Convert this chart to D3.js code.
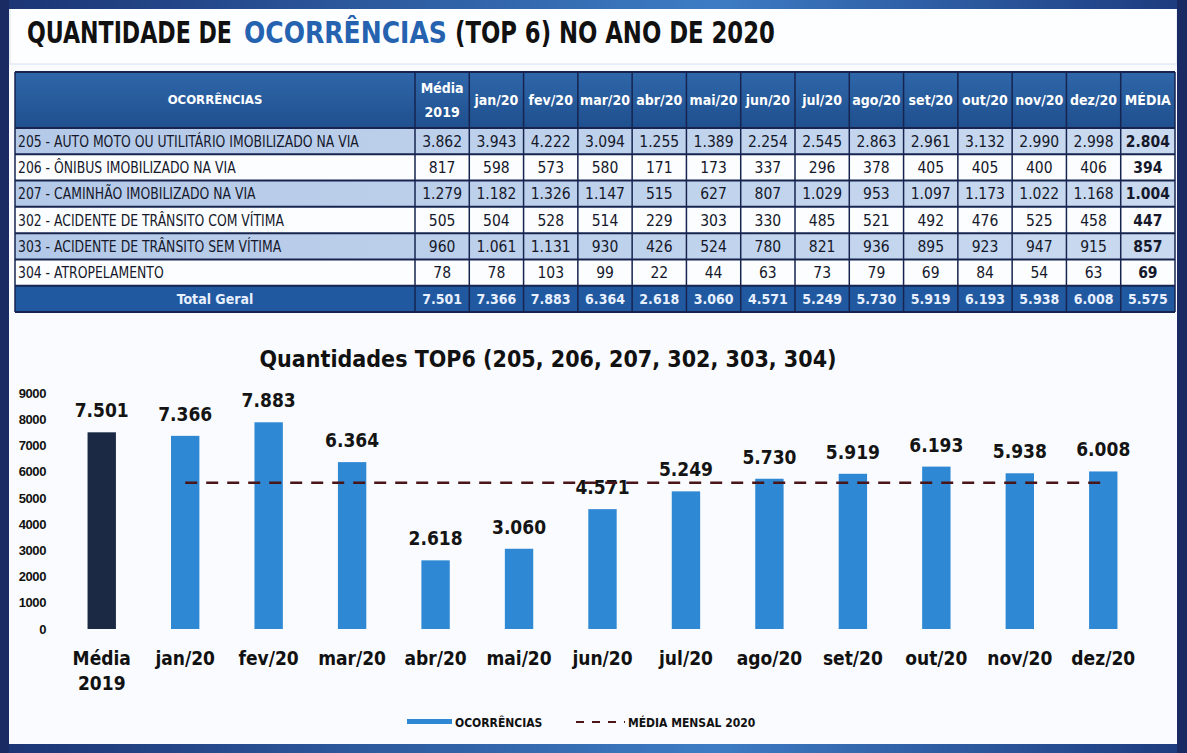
<!DOCTYPE html>
<html>
<head>
<meta charset="utf-8">
<script src="https://cdn.jsdelivr.net/npm/d3@7"></script>
<style>
  html, body { margin: 0; padding: 0; background: #f6f9fc; }
  svg { display: block; }
</style>
</head>
<body>
<script>
// Data
const ocorrencias = [
  '205 - AUTO MOTO OU UTILITÁRIO IMOBILIZADO NA VIA',
  '206 - ÔNIBUS IMOBILIZADO NA VIA',
  '207 - CAMINHÃO IMOBILIZADO NA VIA',
  '302 - ACIDENTE DE TRÂNSITO COM VÍTIMA',
  '303 - ACIDENTE DE TRÂNSITO SEM VÍTIMA',
  '304 - ATROPELAMENTO',
];
const colunas = ['Média 2019', 'jan/20', 'fev/20', 'mar/20', 'abr/20', 'mai/20', 'jun/20',
  'jul/20', 'ago/20', 'set/20', 'out/20', 'nov/20', 'dez/20', 'MÉDIA'];
const v205 = [3862, 3943, 4222, 3094, 1255, 1389, 2254, 2545, 2863, 2961, 3132, 2990, 2998, 2804];
const v206 = [817, 598, 573, 580, 171, 173, 337, 296, 378, 405, 405, 400, 406, 394];
const v207 = [1279, 1182, 1326, 1147, 515, 627, 807, 1029, 953, 1097, 1173, 1022, 1168, 1004];
const v302 = [505, 504, 528, 514, 229, 303, 330, 485, 521, 492, 476, 525, 458, 447];
const v303 = [960, 1061, 1131, 930, 426, 524, 780, 821, 936, 895, 923, 947, 915, 857];
const v304 = [78, 78, 103, 99, 22, 44, 63, 73, 79, 69, 84, 54, 63, 69];
const totalGeral = [7501, 7366, 7883, 6364, 2618, 3060, 4571, 5249, 5730, 5919, 6193, 5938, 6008, 5575];

// Chart categories (bars) and y ticks
const categorias = colunas.slice(0, 13);
const yTicks = [0, 1000, 2000, 3000, 4000, 5000, 6000, 7000, 8000, 9000];

const W = 1187;
const H = 753;
const narrow = "'Liberation Sans Narrow', 'DejaVu Sans Condensed', 'Liberation Sans', sans-serif";
const br = d3.formatLocale({ decimal: ',', thousands: '.', grouping: [3], currency: ['R$', ''] });
const fmt = br.format(',d');

const svg = d3.select('body').append('svg')
  .attr('width', W)
  .attr('height', H);

const defs = svg.append('defs');
const gTop = defs.append('linearGradient').attr('id', 'gTop');
gTop.append('stop').attr('offset', '0%').attr('stop-color', '#1b3474');
gTop.append('stop').attr('offset', '60%').attr('stop-color', '#3d7cc4');
gTop.append('stop').attr('offset', '100%').attr('stop-color', '#1d3a7e');
const gHead = defs.append('linearGradient').attr('id', 'gHead').attr('x2', 0).attr('y2', 1);
gHead.append('stop').attr('offset', '0%').attr('stop-color', '#2f67aa');
gHead.append('stop').attr('offset', '100%').attr('stop-color', '#1f4f8e');
const gRow = defs.append('linearGradient').attr('id', 'gRow');
gRow.append('stop').attr('offset', '0%').attr('stop-color', '#b4c9e8');
gRow.append('stop').attr('offset', '100%').attr('stop-color', '#c9daf0');

// Background + frame
svg.append('rect').attr('width', W).attr('height', H).attr('fill', '#f9fbfe');
svg.append('rect').attr('x', 10).attr('y', 8).attr('width', 1167).attr('height', 56)
  .attr('fill', '#fdfeff').attr('stroke', '#d8e2ee');
svg.append('rect').attr('x', 0).attr('y', 0).attr('width', W).attr('height', 9).attr('fill', 'url(#gTop)');
svg.append('rect').attr('x', 0).attr('y', 744).attr('width', W).attr('height', 9).attr('fill', 'url(#gTop)');
svg.append('rect').attr('x', 0).attr('y', 0).attr('width', 9).attr('height', H).attr('fill', '#1a2a62');
svg.append('rect').attr('x', 1177).attr('y', 0).attr('width', 10).attr('height', H).attr('fill', '#1a2a62');

// Title (three pieces, each squeezed to its place in the picture)
const titleParts = [
  { t: 'QUANTIDADE DE', x: 27, w: 205, c: '#111' },
  { t: 'OCORRÊNCIAS', x: 244, w: 203, c: '#2563b0' },
  { t: '(TOP 6) NO ANO DE 2020', x: 455, w: 320, c: '#111' },
];
svg.append('g')
  .selectAll('text')
  .data(titleParts)
  .enter().append('text')
  .attr('x', 0)
  .attr('y', 0)
  .attr('font-family', narrow)
  .attr('font-weight', 'bold')
  .attr('font-size', 30)
  .attr('fill', (d) => d.c)
  .text((d) => d.t)
  .each(function (d) {
    const sx = d.w / this.getComputedTextLength();
    d3.select(this).attr('transform', `translate(${d.x},43) scale(${sx},1)`);
  });

// Table
const tLeft = 15;
const tFirst = 415;
const tRight = 1175;
const tTop = 72;
const tHeadBottom = 128;
const tBottom = 312;

const rows = [v205, v206, v207, v302, v303, v304];
const xCol = d3.scaleBand().domain(colunas).range([tFirst, tRight]);
const yRow = d3.scaleBand().domain(d3.range(rows.length + 1)).range([tHeadBottom, tBottom]);

const table = svg.append('g').attr('class', 'table');

// header
table.append('rect')
  .attr('x', tLeft).attr('y', tTop)
  .attr('width', tRight - tLeft).attr('height', tHeadBottom - tTop)
  .attr('fill', 'url(#gHead)');

table.append('text')
  .attr('x', (tLeft + tFirst) / 2)
  .attr('y', 104)
  .attr('text-anchor', 'middle')
  .attr('font-family', narrow)
  .attr('font-weight', 'bold')
  .attr('font-size', 13)
  .attr('fill', '#fff')
  .text('OCORRÊNCIAS');

table.selectAll('.head')
  .data(colunas)
  .enter().append('text')
  .attr('class', 'head')
  .attr('text-anchor', 'middle')
  .attr('font-family', narrow)
  .attr('font-weight', 'bold')
  .attr('font-size', 14)
  .attr('fill', '#fff')
  .each(function (d) {
    const parts = d.split(' ');
    const cx = xCol(d) + xCol.bandwidth() / 2;
    d3.select(this).selectAll('tspan')
      .data(parts)
      .enter().append('tspan')
      .attr('x', cx)
      .attr('y', (p, i) => (parts.length > 1 ? 93 + i * 24 : 105))
      .text((p) => p);
  });

// body rows
const body = table.selectAll('.row')
  .data(rows)
  .enter().append('g')
  .attr('class', 'row');

body.append('rect')
  .attr('x', tLeft)
  .attr('y', (d, i) => yRow(i))
  .attr('width', tRight - tLeft)
  .attr('height', yRow.bandwidth())
  .attr('fill', (d, i) => (i % 2 === 0 ? 'url(#gRow)' : '#fbfdff'));

body.append('text')
  .attr('x', tLeft + 3)
  .attr('y', (d, i) => yRow(i) + yRow.bandwidth() / 2 + 5.5)
  .attr('font-family', narrow)
  .attr('font-size', 15.5)
  .attr('fill', '#15182a')
  .text((d, i) => ocorrencias[i])
  .each(function () {
    // squeeze the labels a little, like the condensed face of the original
    const len = this.getComputedTextLength();
    d3.select(this)
      .attr('textLength', len * 0.89)
      .attr('lengthAdjust', 'spacingAndGlyphs');
  });

body.each(function (vals, i) {
  d3.select(this).selectAll('.val')
    .data(vals)
    .enter().append('text')
    .attr('class', 'val')
    .attr('x', (v, j) => xCol(colunas[j]) + xCol.bandwidth() / 2)
    .attr('y', yRow(i) + yRow.bandwidth() / 2 + 5.5)
    .attr('text-anchor', 'middle')
    .attr('font-family', narrow)
    .attr('font-size', 15.5)
    .attr('font-weight', (v, j) => (j === colunas.length - 1 ? 'bold' : 'normal'))
    .attr('fill', '#15182a')
    .text((v) => fmt(v));
});

// total row
const ti = rows.length;
table.append('rect')
  .attr('x', tLeft).attr('y', yRow(ti))
  .attr('width', tRight - tLeft).attr('height', yRow.bandwidth())
  .attr('fill', '#2159a0');
table.append('text')
  .attr('x', (tLeft + tFirst) / 2)
  .attr('y', yRow(ti) + yRow.bandwidth() / 2 + 5)
  .attr('text-anchor', 'middle')
  .attr('font-family', narrow)
  .attr('font-weight', 'bold')
  .attr('font-size', 14)
  .attr('fill', '#e8f0ff')
  .text('Total Geral');
table.selectAll('.tot')
  .data(totalGeral)
  .enter().append('text')
  .attr('class', 'tot')
  .attr('x', (v, j) => xCol(colunas[j]) + xCol.bandwidth() / 2)
  .attr('y', yRow(ti) + yRow.bandwidth() / 2 + 5)
  .attr('text-anchor', 'middle')
  .attr('font-family', narrow)
  .attr('font-weight', 'bold')
  .attr('font-size', 14)
  .attr('fill', '#e8f0ff')
  .text((v) => fmt(v));

// grid lines
const lines = table.append('g').attr('stroke', '#16244f');
lines.selectAll('.hl')
  .data(d3.range(rows.length + 1).map((i) => yRow(i)).concat([tTop, tBottom]))
  .enter().append('line')
  .attr('x1', tLeft).attr('x2', tRight)
  .attr('y1', (d) => d).attr('y2', (d) => d)
  .attr('stroke-width', 2);
lines.selectAll('.vl')
  .data([tLeft, tFirst].concat(colunas.map((c) => xCol(c) + xCol.bandwidth())))
  .enter().append('line')
  .attr('x1', (d) => d).attr('x2', (d) => d)
  .attr('y1', tTop).attr('y2', tBottom)
  .attr('stroke-width', 1.5);

// Bar chart
const x = d3.scaleBand()
  .domain(categorias)
  .range([60, 1145])
  .paddingInner(0.66)
  .paddingOuter(0.33);
const y = d3.scaleLinear().domain([0, 9000]).range([629, 393]);

svg.append('text')
  .attr('x', 548)
  .attr('y', 367)
  .attr('text-anchor', 'middle')
  .attr('font-family', narrow)
  .attr('font-weight', 'bold')
  .attr('font-size', 23)
  .attr('fill', '#111')
  .text('Quantidades TOP6 (205, 206, 207, 302, 303, 304)');

const yAxis = svg.append('g')
  .attr('transform', 'translate(46,0)')
  .call(d3.axisLeft(y).tickValues(yTicks).tickSize(0).tickPadding(0).tickFormat(d3.format('d')));
yAxis.select('.domain').remove();
yAxis.selectAll('text')
  .attr('font-family', "'Liberation Sans', sans-serif")
  .attr('font-weight', 'bold')
  .attr('font-size', 13)
  .attr('letter-spacing', -0.4)
  .attr('fill', '#111');

svg.append('g')
  .selectAll('rect')
  .data(categorias)
  .enter().append('rect')
  .attr('x', (d) => x(d))
  .attr('y', (d, i) => y(totalGeral[i]))
  .attr('width', x.bandwidth())
  .attr('height', (d, i) => y(0) - y(totalGeral[i]))
  .attr('fill', (d, i) => (i === 0 ? '#1c2945' : '#2f88d4'));

svg.append('g')
  .selectAll('text')
  .data(categorias)
  .enter().append('text')
  .attr('x', (d) => x(d) + x.bandwidth() / 2)
  .attr('y', (d, i) => y(totalGeral[i]) - 15)
  .attr('text-anchor', 'middle')
  .attr('font-family', narrow)
  .attr('font-weight', 'bold')
  .attr('font-size', 19)
  .attr('fill', '#141414')
  .text((d, i) => fmt(totalGeral[i]));

// Mean line
const media = totalGeral[totalGeral.length - 1];
svg.append('line')
  .attr('x1', x(categorias[1]) + x.bandwidth() / 2)
  .attr('x2', x(categorias[categorias.length - 1]) + x.bandwidth() / 2)
  .attr('y1', y(media))
  .attr('y2', y(media))
  .attr('stroke', '#4a1518')
  .attr('stroke-width', 2.5)
  .attr('stroke-dasharray', '12,9');

// X labels
const xAxis = svg.append('g')
  .attr('transform', 'translate(0,629)')
  .call(d3.axisBottom(x).tickSize(0).tickPadding(0));
xAxis.select('.domain').remove();
xAxis.selectAll('text').remove();
xAxis.selectAll('.tick')
  .append('text')
  .attr('text-anchor', 'middle')
  .attr('font-family', narrow)
  .attr('font-weight', 'bold')
  .attr('font-size', 19)
  .attr('fill', '#111')
  .each(function (d) {
    const parts = d.split(' ');
    d3.select(this).selectAll('tspan')
      .data(parts)
      .enter().append('tspan')
      .attr('x', 0)
      .attr('y', (p, i) => 36 + i * 25)
      .text((p) => p);
  });

// Legend
const legend = svg.append('g')
  .attr('font-family', narrow)
  .attr('font-weight', 'bold')
  .attr('font-size', 12)
  .attr('fill', '#111');
legend.append('rect').attr('x', 407).attr('y', 719).attr('width', 45).attr('height', 5).attr('fill', '#2f88d4');
legend.append('text').attr('x', 455).attr('y', 727).text('OCORRÊNCIAS');
legend.append('line')
  .attr('x1', 576).attr('x2', 625).attr('y1', 722).attr('y2', 722)
  .attr('stroke', '#4a1518').attr('stroke-width', 2)
  .attr('stroke-dasharray', '8,8');
legend.append('text').attr('x', 628).attr('y', 727).text('MÉDIA MENSAL 2020');
</script>
</body>
</html>
